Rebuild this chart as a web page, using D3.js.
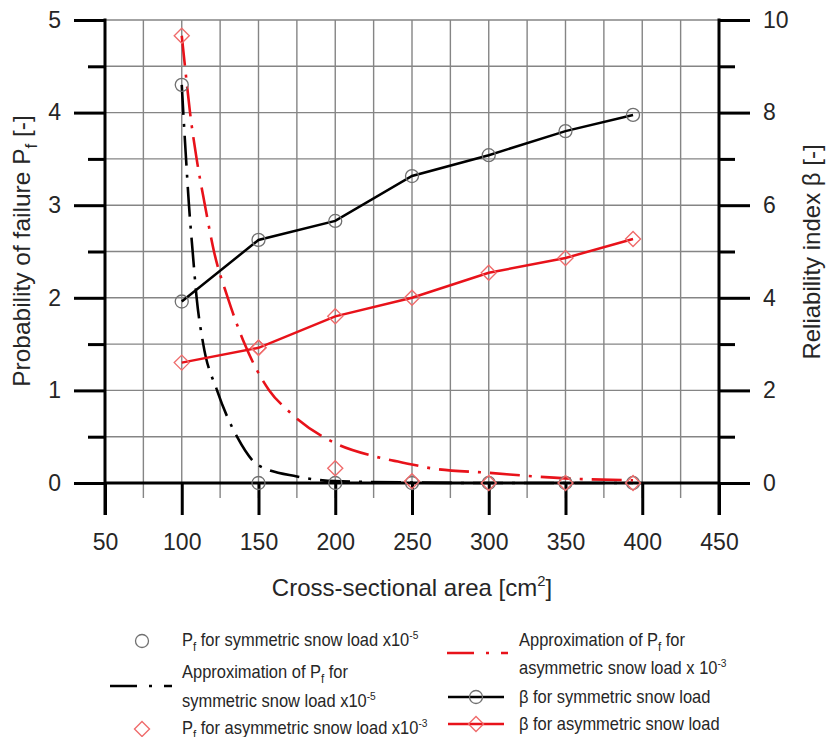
<!DOCTYPE html>
<html>
<head>
<meta charset="utf-8">
<script src="https://cdn.jsdelivr.net/npm/d3@7"></script>
<style>
  body { margin: 0; background: #fff; }
  svg { display: block; }
  text { font-family: "Liberation Sans", Arial, sans-serif; fill: #262626; }
</style>
</head>
<body>
<svg id="chart" width="829" height="737"></svg>
<script>
// cross-sectional areas [cm2] where the analyses were done
var areas = [100, 150, 200, 250, 300, 350, 394];
// probability of failure (scaled), left axis
var pfSym = [4.3, 0, 0, 0, 0, 0, 0];
var pfAsym = [4.83, 1.46, 0.16, 0.02, 0, 0, 0];
// reliability index, right axis
var betaSym = [3.92, 5.25, 5.66, 6.63, 7.08, 7.6, 7.95];
var betaAsym = [2.6, 2.92, 3.6, 4.0, 4.54, 4.86, 5.27];
// approximation curves
var approxSymX = [100, 101, 102.8, 104.7, 107.1, 109.7, 114, 123, 136, 150, 175, 200, 250, 300, 350, 394];
var approxSymY = [4.3, 4.0, 3.5, 3.0, 2.5, 2.0, 1.5, 1.0, 0.5, 0.19, 0.07, 0.02, 0.005, 0, 0, 0];
var approxAsymX = [100, 102.1, 105.4, 109.7, 115.1, 121, 130, 141, 157, 170, 200, 225, 250, 262, 300, 350, 394];
var approxAsymY = [4.83, 4.5, 4.0, 3.5, 3.0, 2.5, 2.0, 1.5, 1.0, 0.77, 0.43, 0.29, 0.2, 0.16, 0.11, 0.05, 0.03];
// ticks
var xTicks = [50, 100, 150, 200, 250, 300, 350, 400, 450];
var xGrid = [75, 100, 125, 150, 175, 200, 225, 250, 275, 300, 325, 350, 375, 400, 425];
var leftTicks = [0, 0.5, 1, 1.5, 2, 2.5, 3, 3.5, 4, 4.5, 5];
var rightTicks = [0, 1, 2, 3, 4, 5, 6, 7, 8, 9, 10];

(function () {
  var RED = "#e8121a", MARK_RED = "#ef6b6b", MARK_GRAY = "#707070";
  var DASHDOT = "30,9,3,9";

  var svg = d3.select("#chart");

  // plot frame
  var pL = 105, pR = 719, pT = 20, pB = 483;

  var x = d3.scaleLinear().domain([50, 450]).range([pL, pR]);
  var yL = d3.scaleLinear().domain([0, 5]).range([pB, pT]);
  var yR = d3.scaleLinear().domain([0, 10]).range([pB, pT]);

  // grid
  var grid = svg.append("g").attr("stroke", "#858585").attr("stroke-width", 1.4);
  grid.selectAll(".gv").data(xGrid).enter().append("line")
    .attr("x1", function (d) { return x(d); }).attr("x2", function (d) { return x(d); })
    .attr("y1", pT).attr("y2", pB + 15);
  grid.selectAll(".gh").data(leftTicks.filter(function (d) { return d > 0; })).enter().append("line")
    .attr("x1", pL).attr("x2", pR)
    .attr("y1", function (d) { return yL(d); }).attr("y2", function (d) { return yL(d); });

  function isInt(d) { return Math.abs(d - Math.round(d)) < 1e-9; }

  var axL = svg.append("g").attr("transform", "translate(" + pL + ",0)")
    .call(d3.axisLeft(yL).tickValues(leftTicks).tickSize(31).tickPadding(13)
      .tickFormat(function (d) { return isInt(d) ? d : ""; }));
  axL.selectAll(".tick line").attr("x2", function (d) { return isInt(d) ? -31 : -17; });

  var axR = svg.append("g").attr("transform", "translate(" + pR + ",0)")
    .call(d3.axisRight(yR).tickValues(rightTicks).tickSize(31).tickPadding(13)
      .tickFormat(function (d) { return d % 2 === 0 ? d : ""; }));
  axR.selectAll(".tick line").attr("x2", function (d) { return d % 2 === 0 ? 31 : 16; });

  var axB = svg.append("g").attr("transform", "translate(0," + pB + ")")
    .call(d3.axisBottom(x).tickValues(xTicks).tickSize(32).tickPadding(19));

  [axL, axR, axB].forEach(function (a) {
    a.attr("font-size", 23).attr("font-family", "'Liberation Sans', Arial, sans-serif");
    a.select(".domain").remove();
    a.selectAll(".tick line").attr("stroke", "#000").attr("stroke-width", 3);
    a.selectAll(".tick text").attr("fill", "#262626");
  });
  // axis lines
  svg.append("line").attr("x1", pL).attr("x2", pL).attr("y1", pT - 1.5).attr("y2", pB + 32)
    .attr("stroke", "#000").attr("stroke-width", 3);
  svg.append("line").attr("x1", pR).attr("x2", pR).attr("y1", pT - 1.5).attr("y2", pB + 32)
    .attr("stroke", "#000").attr("stroke-width", 3);
  svg.append("line").attr("x1", pL).attr("x2", pR).attr("y1", pB).attr("y2", pB)
    .attr("stroke", "#000").attr("stroke-width", 3);

  // rich text helper: parts = [[text, "sub"|"sup"|null], ...]
  function rich(sel, parts, size) {
    parts.forEach(function (p) {
      var t = sel.append("tspan").text(p[0]);
      if (p[1] === "sub") t.attr("font-size", size * 0.7).attr("dy", size * 0.28);
      else if (p[1] === "sup") t.attr("font-size", size * 0.62).attr("dy", -size * 0.4);
      if (p[1]) {
        sel.append("tspan").attr("font-size", size).attr("dy", p[1] === "sub" ? -size * 0.28 : size * 0.4).text("\u200b");
      }
    });
  }

  // axis titles
  var tx = svg.append("text").attr("x", 412).attr("y", 596).attr("text-anchor", "middle").attr("font-size", 24);
  rich(tx, [["Cross-sectional area [cm", null], ["2", "sup"], ["]", null]], 24);

  var tl = svg.append("text").attr("transform", "translate(30,251) rotate(-90)")
    .attr("text-anchor", "middle").attr("font-size", 24.5);
  rich(tl, [["Probability of failure P", null], ["f", "sub"], [" [-]", null]], 24.5);

  svg.append("text").attr("transform", "translate(820,252) rotate(-90)")
    .attr("text-anchor", "middle").attr("font-size", 24).text("Reliability index \u03b2 [-]");

  // data lines
  var plot = svg.append("g");
  var lineR = d3.line().x(function (d) { return x(d[0]); }).y(function (d) { return yR(d[1]); });
  var curveL = d3.line().curve(d3.curveMonotoneX)
    .x(function (d) { return x(d[0]); }).y(function (d) { return yL(d[1]); });

  plot.append("path").datum(d3.zip(approxSymX, approxSymY)).attr("d", curveL)
    .attr("fill", "none").attr("stroke", "#000").attr("stroke-width", 2.6).attr("stroke-dasharray", DASHDOT);
  plot.append("path").datum(d3.zip(approxAsymX, approxAsymY)).attr("d", curveL)
    .attr("fill", "none").attr("stroke", RED).attr("stroke-width", 2.6).attr("stroke-dasharray", DASHDOT);
  plot.append("path").datum(d3.zip(areas, betaSym)).attr("d", lineR)
    .attr("fill", "none").attr("stroke", "#000").attr("stroke-width", 2.5);
  plot.append("path").datum(d3.zip(areas, betaAsym)).attr("d", lineR)
    .attr("fill", "none").attr("stroke", RED).attr("stroke-width", 2.5);

  function circleMark(g, cx, cy) {
    g.append("circle").attr("cx", cx).attr("cy", cy).attr("r", 6.5)
      .attr("fill", "none").attr("stroke", MARK_GRAY).attr("stroke-width", 1.3);
  }
  function diamondMark(g, cx, cy) {
    var s = 7.5;
    g.append("path").attr("d", "M" + cx + "," + (cy - s) + "L" + (cx + s) + "," + cy + "L" + cx + "," + (cy + s) + "L" + (cx - s) + "," + cy + "Z")
      .attr("fill", "none").attr("stroke", MARK_RED).attr("stroke-width", 1.4);
  }

  areas.forEach(function (a, i) {
    circleMark(plot, x(a), yR(betaSym[i]));
    diamondMark(plot, x(a), yR(betaAsym[i]));
    circleMark(plot, x(a), yL(pfSym[i]));
    diamondMark(plot, x(a), yL(pfAsym[i]));
  });

  // legend
  var lg = svg.append("g");
  var LS = 18.5;
  function legendText(px, py, parts) {
    var t = lg.append("text").attr("transform", "translate(" + px + "," + py + ") scale(0.89,1)")
      .attr("font-size", LS);
    rich(t, parts, LS);
  }
  circleMark(lg, 142, 641);
  legendText(182, 646, [["P", null], ["f", "sub"], [" for symmetric snow load x10", null], ["-5", "sup"]]);
  lg.append("line").attr("x1", 110).attr("x2", 172).attr("y1", 686).attr("y2", 686)
    .attr("stroke", "#000").attr("stroke-width", 2.6).attr("stroke-dasharray", "27,12,3,12");
  legendText(182, 678, [["Approximation of P", null], ["f", "sub"], [" for", null]]);
  legendText(182, 707, [["symmetric snow load x10", null], ["-5", "sup"]]);
  diamondMark(lg, 142, 729);
  legendText(182, 734, [["P", null], ["f", "sub"], [" for asymmetric snow load x10", null], ["-3", "sup"]]);

  lg.append("line").attr("x1", 447).attr("x2", 508).attr("y1", 653).attr("y2", 653)
    .attr("stroke", RED).attr("stroke-width", 2.6).attr("stroke-dasharray", "27,12,3,12");
  legendText(519, 646, [["Approximation of P", null], ["f", "sub"], [" for", null]]);
  legendText(519, 674, [["asymmetric snow load x 10", null], ["-3", "sup"]]);
  lg.append("line").attr("x1", 448).attr("x2", 504).attr("y1", 697).attr("y2", 697)
    .attr("stroke", "#000").attr("stroke-width", 2.5);
  circleMark(lg, 476, 697);
  legendText(519, 703, [["\u03b2 for symmetric snow load", null]]);
  lg.append("line").attr("x1", 448).attr("x2", 504).attr("y1", 724).attr("y2", 724)
    .attr("stroke", RED).attr("stroke-width", 2.5);
  diamondMark(lg, 476, 724);
  legendText(519, 730, [["\u03b2 for asymmetric snow load", null]]);
})();
</script>
</body>
</html>
